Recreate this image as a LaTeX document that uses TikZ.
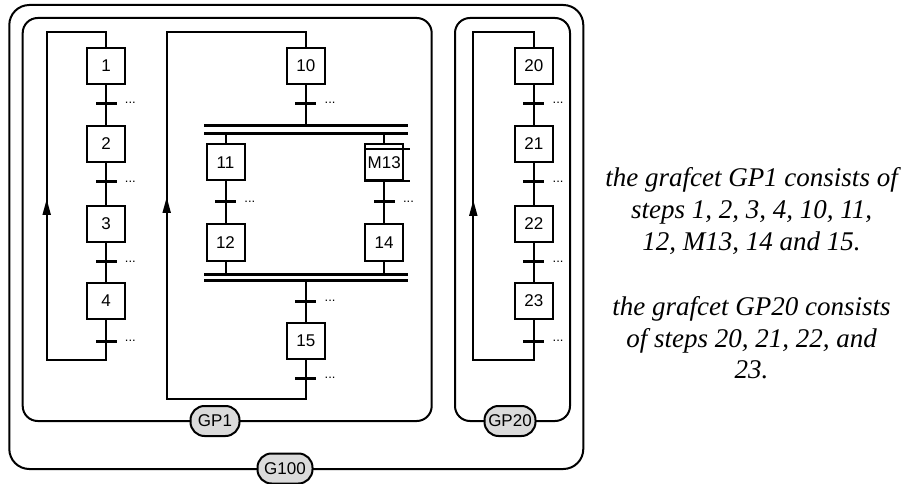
\documentclass[tikz,border=0pt]{standalone}
\usepackage{fontspec}
\setmainfont{Liberation Serif}
\newfontfamily\sansstep{Liberation Sans}
\usetikzlibrary{arrows.meta}
\begin{document}
\begin{tikzpicture}[x=1pt,y=-1pt,
  conn/.style={line width=2pt},
  frame/.style={line width=2pt},
  stepbox/.style={draw, line width=2pt, fill=white, minimum width=38pt, minimum height=36pt, inner sep=0pt,
    font=\sansstep\fontsize{17}{19}\selectfont},
  trans/.style={fill=black, minimum width=21pt, minimum height=3pt, inner sep=0pt,
    label={[font=\sansstep\fontsize{13}{13}\selectfont, inner sep=0pt, label distance=8pt]right:...}},
  pbar/.style={fill=black, minimum width=204pt, minimum height=3pt, inner sep=0pt},
  pill/.style={draw, line width=2pt, fill=gray!28, rounded corners=14pt, minimum height=30pt, inner sep=2pt,
    font=\sansstep\fontsize{17}{19}\selectfont},
  upar/.style={conn, -{Triangle[length=16pt,width=8pt]}},
  note/.style={font=\itshape\fontsize{27}{31.5}\selectfont, align=center, inner sep=0pt}
]
\useasboundingbox (0,0) rectangle (903,484);

% frames
\draw[frame, rounded corners=20pt] (9.3,5) rectangle (583.3,469);
\draw[frame, rounded corners=15pt] (22.7,18) rectangle (431.7,421);
\draw[frame, rounded corners=15pt] (455,18) rectangle (570,421);

% ---------- chain A ----------
\node[stepbox] (s1) at (106,66) {1};
\node[stepbox] (s2) at (106,144) {2};
\node[stepbox] (s3) at (106,224) {3};
\node[stepbox] (s4) at (106,301) {4};
\node[trans] (t1) at (106,103.3) {};
\node[trans] (t2) at (106,181.7) {};
\node[trans] (t3) at (106,261.7) {};
\node[trans] (t4) at (106,341) {};
\coordinate (a1) at (106,360);
\coordinate (a2) at (46.7,31.7);
\coordinate (aa) at (46.7,240);
\coordinate (ab) at (46.7,199);
\draw[conn] (s1) -- (t1.center) -- (s2);
\draw[conn] (s2) -- (t2.center) -- (s3);
\draw[conn] (s3) -- (t3.center) -- (s4);
\draw[conn] (s4) -- (t4.center) -- (a1) -| (a2) -| (s1);
\draw[upar] (aa) -- (ab);

% ---------- chain B ----------
\node[stepbox] (s10) at (305.8,66) {10};
\node[trans] (t10) at (305.8,103.3) {};
\node[pbar] (pd1) at (305.8,125.7) {};
\node[pbar] (pd2) at (305.8,133.3) {};
\node[stepbox] (s11) at (225.5,162.5) {11};
\node[stepbox] (sM13) at (384.2,162.5) {M13};
\node[trans] (t11) at (225.5,201.7) {};
\node[trans] (t13) at (384.2,201.7) {};
\node[stepbox] (s12) at (225.5,242.5) {12};
\node[stepbox] (s14) at (384.2,242.5) {14};
\node[pbar] (pc1) at (305.8,274.5) {};
\node[pbar] (pc2) at (305.8,280) {};
\node[trans] (t14) at (305.8,301) {};
\node[stepbox] (s15) at (305.8,341) {15};
\node[trans] (t15) at (305.8,378.3) {};
\coordinate (b1) at (305.8,399.3);
\coordinate (b2) at (166.7,31.7);
\coordinate (ba) at (166.7,240);
\coordinate (bb) at (166.7,197);
\draw[conn] (s10) -- (t10.center) -- (pd1.center);
\draw[conn] (s11) -- (s11 |- pd2.center);
\draw[conn] (sM13) -- (sM13 |- pd2.center);
\draw[conn] (s11) -- (t11.center) -- (s12);
\draw[conn] (sM13) -- (t13.center) -- (s14);
\draw[conn] (s12) -- (s12 |- pc1.center);
\draw[conn] (s14) -- (s14 |- pc1.center);
\draw[conn] (pc2.center) -- (t14.center) -- (s15);
\draw[conn] (s15) -- (t15.center) -- (b1) -| (b2) -| (s10);
\draw[upar] (ba) -- (bb);
% macro-step marks
\draw[conn] ([yshift=-6pt]sM13.north west) -- ++(45.7,0);
\draw[conn] (sM13.south west) -- ++(45.7,0);

% ---------- chain C ----------
\node[stepbox] (s20) at (533.8,66) {20};
\node[stepbox] (s21) at (533.8,144) {21};
\node[stepbox] (s22) at (533.8,224) {22};
\node[stepbox] (s23) at (533.8,301) {23};
\node[trans] (t20) at (533.8,103.3) {};
\node[trans] (t21) at (533.8,181.7) {};
\node[trans] (t22) at (533.8,261.7) {};
\node[trans] (t23) at (533.8,341) {};
\coordinate (c1) at (533.8,360);
\coordinate (c2) at (473.3,31.7);
\coordinate (ca) at (473.3,240);
\coordinate (cb) at (473.3,200);
\draw[conn] (s20) -- (t20.center) -- (s21);
\draw[conn] (s21) -- (t21.center) -- (s22);
\draw[conn] (s22) -- (t22.center) -- (s23);
\draw[conn] (s23) -- (t23.center) -- (c1) -| (c2) -| (s20);
\draw[upar] (ca) -- (cb);

% labels on frames
\node[pill, minimum width=49pt] (gp1) at (215,421) {GP1};
\node[pill, minimum width=51pt] (gp20) at (510,421) {GP20};
\node[pill, minimum width=55pt] (g100) at (285,468.5) {G100};

% notes (base anchor = baseline of last line)
\node[note, anchor=base] (n1) at (751.5,250) {the grafcet GP1 consists of\\steps 1, 2, 3, 4, 10, 11,\\12, M13, 14 and 15.};
\node[note, anchor=base] (n2) at (751.5,378.5) {the grafcet GP20 consists\\of steps 20, 21, 22, and\\23.};
\end{tikzpicture}
\end{document}
